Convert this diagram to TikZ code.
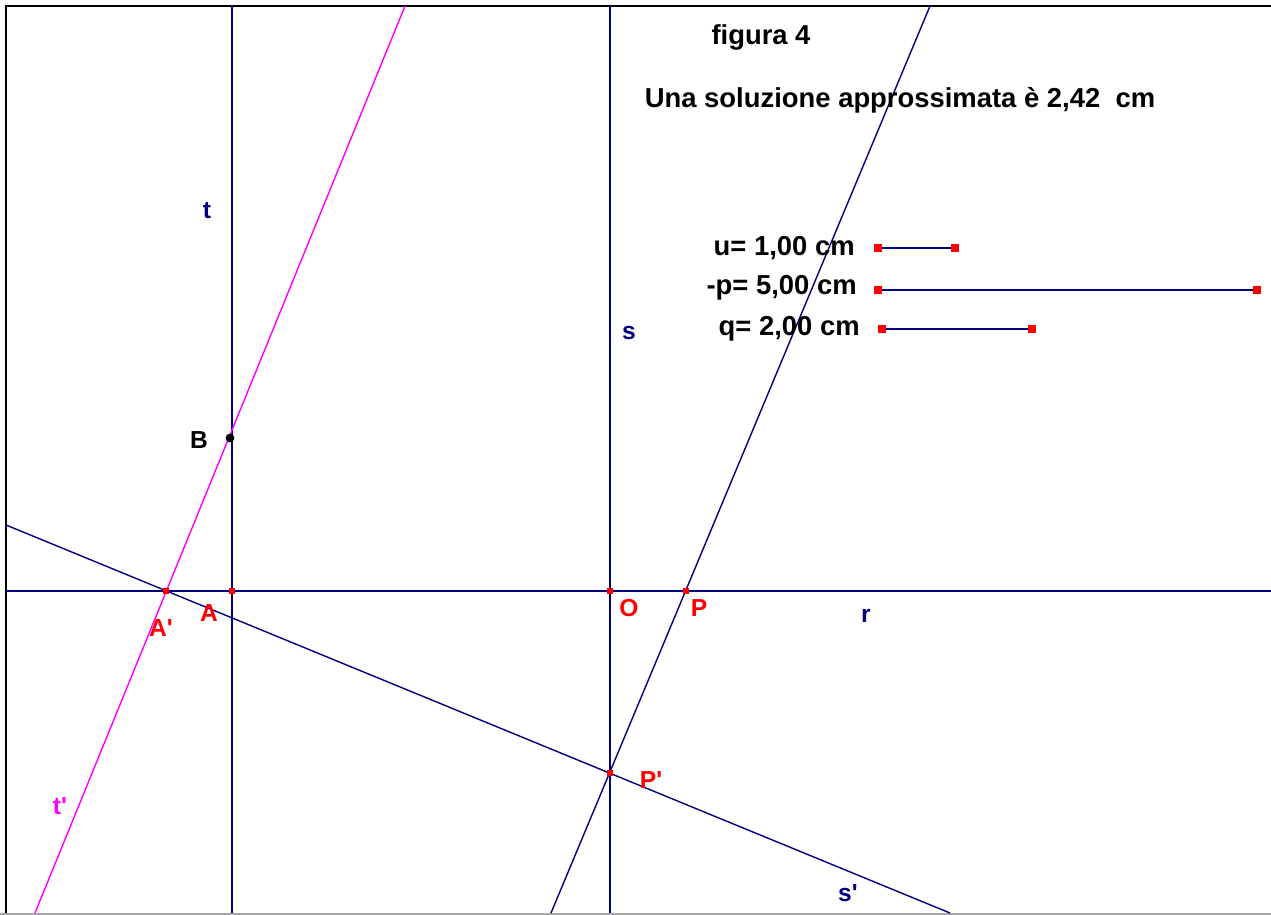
\documentclass[tikz,border=0pt]{standalone}
\usepackage{fontspec}
\setmainfont{Liberation Sans}
\definecolor{navy}{RGB}{0,0,128}
\definecolor{fuchsia}{RGB}{255,0,255}

\begin{document}
\begin{tikzpicture}[
    x=0.02cm, y=-0.02cm,
    line/.style={draw=navy, line width=0.8pt},
    tline/.style={draw=fuchsia, line width=0.8pt},
    seg/.style={draw=navy, line width=1pt},
    frame/.style={draw=black, line width=1.3pt},
    pt/.style={fill=red, inner sep=0pt, minimum size=3.5pt},
    endpt/.style={fill=red, inner sep=0pt, minimum size=4.5pt},
    bigtext/.style={font=\fontsize{15.6}{18}\selectfont\bfseries, inner sep=0pt},
    ptlabel/.style={text=red, font=\fontsize{14}{16}\selectfont\bfseries, inner sep=0pt},
    linelabel/.style={text=navy, font=\fontsize{14}{16}\selectfont\bfseries, inner sep=0pt}
]
\useasboundingbox (0,0) rectangle (1271,915);

% frame
\draw[black!35, line width=1pt] (0,914) -- (1271,914);
\draw[frame] (6,913) -- (6,6) -- (1271,6);

% line ends
\coordinate (r1) at (6,591);
\coordinate (r2) at (1271,591);
\coordinate (t1) at (232,6);
\coordinate (t2) at (232,913);
\coordinate (s1) at (610,6);
\coordinate (s2) at (610,913);
\coordinate (tp1) at (405,6);
\coordinate (tp2) at (35,913);
\coordinate (pp1) at (930,6);
\coordinate (pp2) at (551,913);
\coordinate (sp1) at (6,525);
\coordinate (sp2) at (950,913);

\draw[line] (r1) -- (r2);
\draw[line] (t1) -- (t2);
\draw[line] (s1) -- (s2);
\draw[line] (pp1) -- (pp2);
\draw[line] (sp1) -- (sp2);
\draw[tline] (tp1) -- (tp2);

% points
\node[pt] (Ap) at (166,591) {};
\node[pt] (A) at (232,591) {};
\node[pt] (O) at (610,591) {};
\node[pt] (P) at (686,591) {};
\node[pt] (Pp) at (610,773) {};
\node[circle, fill=black, inner sep=0pt, minimum size=5pt] (B) at (230,438) {};

\node[ptlabel] (lAp) at (161,628) {A\textquotesingle};
\node[ptlabel] (lA) at (209,613) {A};
\node[ptlabel] (lO) at (629,608) {O};
\node[ptlabel] (lP) at (699,608) {P};
\node[ptlabel] (lPp) at (651,780) {P\textquotesingle};
\node[font=\fontsize{14}{16}\selectfont\bfseries, inner sep=0pt] (lB) at (199,440) {B};

\node[linelabel] (lt) at (207,211) {t};
\node[linelabel] (ls) at (629,333) {s};
\node[linelabel] (lr) at (866,616) {r};
\node[linelabel] (lsp) at (848,893) {s\textquotesingle};
\node[linelabel, text=fuchsia] (ltp) at (60,806) {t\textquotesingle};

% titles
\node[bigtext] (title) at (761,37) {figura 4};
\node[bigtext] (answer) at (900,100) {Una soluzione approssimata è 2,42\ \ cm};

% unit segments
\node[bigtext, anchor=east] (lu) at (855,248) {u= 1,00 cm};
\node[bigtext, anchor=east] (lp) at (857,288) {-p= 5,00 cm};
\node[bigtext, anchor=east] (lq) at (860,329) {q= 2,00 cm};

\node[endpt] (u1) at (878,248) {};
\node[endpt] (u2) at (955,248) {};
\node[endpt] (p1) at (878,290) {};
\node[endpt] (p2) at (1257,290) {};
\node[endpt] (q1) at (882,329) {};
\node[endpt] (q2) at (1032,329) {};
\draw[seg] (u1) -- (u2);
\draw[seg] (p1) -- (p2);
\draw[seg] (q1) -- (q2);

\end{tikzpicture}
\end{document}
